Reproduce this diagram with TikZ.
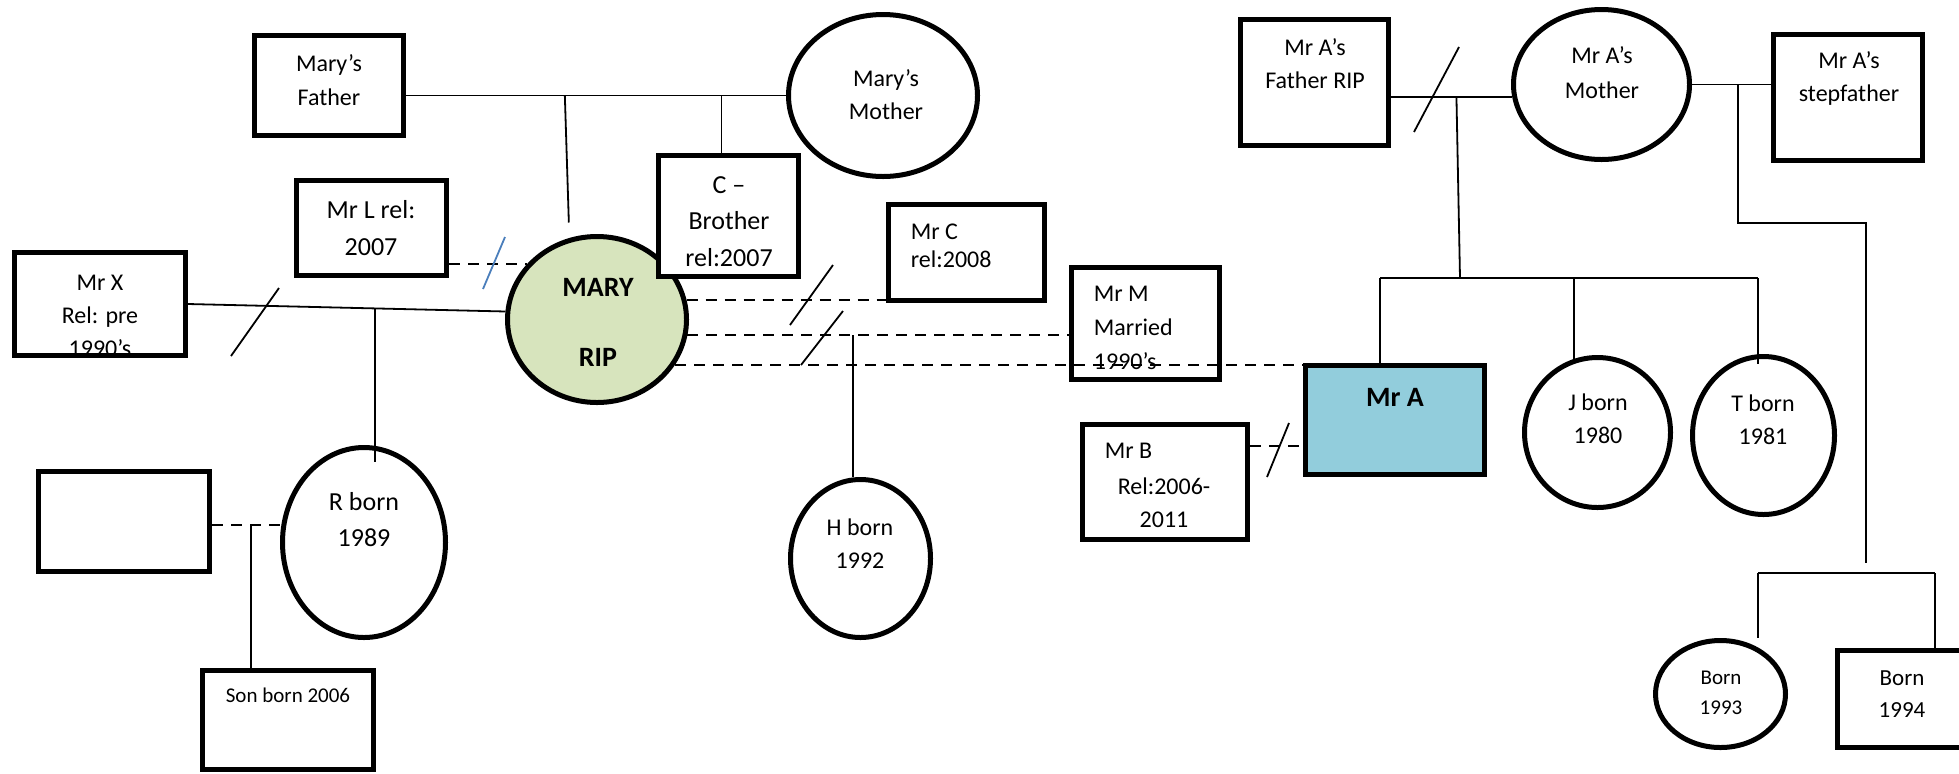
\documentclass[tikz,border=0pt]{standalone}
\usepackage{fontspec}
\setmainfont{Carlito}
\usetikzlibrary{shapes.geometric}
\definecolor{maryfill}{HTML}{D7E4BD}
\definecolor{afill}{HTML}{92CDDC}
\definecolor{cutblue}{HTML}{4A7EBB}
\tikzset{
  gen/.style={x=0.5pt, y=-0.5pt, line width=0.9pt},
  sz/.style 2 args={minimum width=#1, minimum height=#2},
  mbox/.style={draw, rectangle, line width=2.5pt, inner sep=0pt, fill=white},
  fell/.style={draw, ellipse, line width=2.5pt, inner sep=0pt},
  txt/.style={align=center, inner sep=0pt, font=\fontsize{12}{#1}\selectfont}, txt/.default=16.5,
  bigtxt/.style={align=center, inner sep=0pt, font=\fontsize{13}{#1}\selectfont}, bigtxt/.default=18,
  smtxt/.style={align=center, inner sep=0pt, font=\fontsize{10.5}{#1}\selectfont}, smtxt/.default=15,
  boldtxt/.style={align=center, inner sep=0pt, font=\fontsize{14}{35}\selectfont\bfseries},
  rel/.style={dash pattern=on 5.5pt off 4pt, line width=1pt},
  cut/.style={line width=0.9pt}
}

\begin{document}
\begin{tikzpicture}[gen]
\useasboundingbox (0,0) rectangle (1959,773);
\clip (0,0) rectangle (1959,773);
% Mary's side
\node[mbox, sz={74.5pt}{50pt}] (mfa) at (329,85.5) {};
\node[fell, sz={94.5pt}{81pt}] (mmo) at (883,95.5) {};
\node[fell, fill=maryfill, sz={89.5pt}{83pt}] (mary) at (597,319.5) {};
\node[mbox, sz={70pt}{60.5pt}] (cbro) at (728.5,216) {};
\node[mbox, sz={75pt}{47.5pt}] (mrl) at (371.5,228) {};
\node[mbox, sz={85.5pt}{51.5pt}] (mrx) at (100,304) {};
\node[mbox, sz={78pt}{48pt}] (mrc) at (966.5,252.5) {};
\node[mbox, sz={74pt}{56pt}] (mrm) at (1145.5,323.5) {};
\node[fell, sz={70pt}{79pt}] (hson) at (860.5,558.5) {};
\node[fell, sz={81.5pt}{95pt}] (rdau) at (364,542.5) {};
\node[mbox, sz={85.5pt}{50pt}] (rpart) at (124,521.5) {};
\node[mbox, sz={85.5pt}{49.5pt}] (rson) at (288,720) {};
% Mr A's side
\node[mbox, sz={74pt}{63pt}] (afa) at (1314.5,82.5) {};
\node[fell, sz={88pt}{75pt}] (amo) at (1601.5,84.5) {};
\node[mbox, sz={74.5pt}{63pt}] (astep) at (1848,97.5) {};
\node[mbox, fill=afill, sz={89.5pt}{54.5pt}] (mra) at (1395,420) {};
\node[mbox, sz={82.5pt}{57.5pt}] (mrb) at (1165,482) {};
\node[fell, sz={73pt}{75pt}] (jdau) at (1597.5,432.5) {};
\node[fell, sz={71pt}{79pt}] (tdau) at (1763.5,435.5) {};
\node[fell, sz={65pt}{53.5pt}] (b93) at (1720.5,694) {};
\node[mbox, sz={64.5pt}{48.5pt}] (b94) at (1902,699) {};

% texts
\node[txt=17] (mfaT) at (329,80) {Mary’s\\Father};
\node[txt] (mmoT) at (886,94.5) {Mary’s\\Mother};
\node[boldtxt] (maryT) at (598,322) {MARY\\RIP};
\node[bigtxt=18.25] (cbroT) at (729,221.5) {C –\\Brother\\rel:2007};
\node[bigtxt=18.5] (mrlT) at (371,228.5) {Mr L rel:\\2007};
\begin{scope}
  \clip (mrx.south west) rectangle (mrx.north east);
  \node[txt] (mrxT) at (100,316) {Mr X\\Rel: pre\\1990’s};
\end{scope}
\node[txt=14, align=left, anchor=west] (mrcT) at (910,246) {Mr C\\rel:2008};
\node[txt=17, align=left, anchor=west] (mrmT) at (1093,328) {Mr M\\Married\\1990’s};
\node[txt] (hsonT) at (860,543.5) {H born\\1992};
\node[bigtxt] (rdauT) at (364,520) {R born\\1989};
\node[smtxt] (rsonT) at (288,695) {Son born 2006};
\node[txt] (afaT) at (1315,63.5) {Mr A’s\\Father RIP};
\node[txt=17.5] (amoT) at (1602,72.5) {Mr A’s\\Mother};
\node[txt] (astepT) at (1849,78.5) {Mr A’s\\stepfather};
\node[boldtxt] (mraT) at (1395,397) {Mr A};
\node[txt, anchor=west] (mrbT) at (1104,451) {Mr B};
\node[txt] (mrbT2) at (1164,502.5) {Rel:2006-\\2011};
\node[txt] (jdauT) at (1598,418.5) {J born\\1980};
\node[txt] (tdauT) at (1763,419.5) {T born\\1981};
\node[smtxt] (b93T) at (1721,693) {Born\\1993};
\node[txt, font=\fontsize{11.5}{16}\selectfont] (b94T) at (1902,694) {Born\\1994};

% Mary's lines
\draw (mfa.east |- mmo.west) -- coordinate[pos=0.418] (mp) coordinate[pos=0.83] (cp) (mmo.west);
\draw (mp) -- ++(4,127);
\draw (cp) -- (cp |- cbro.north);
\draw (mrx.east) -- coordinate[pos=0.59] (xr) (mary.175);
\draw (xr) -- ++(0,154);
\draw[cut] (279,288) -- (231,356);
\draw[rel] (mrl.east |- mary.142) -- (mary.142);
\draw[cut, cutblue] (505,237) -- (483,289);
\draw[rel] (mary.12) -- (mary.12 -| mrc.west);
\draw[rel] (mary.-10) -- coordinate[pos=0.435] (hp) (mary.-10 -| mrm.west);
\draw (hp) -- (hp |- hson.north);
\draw[rel] (mary.-30) -- (mary.-30 -| mra.west);
\draw[cut] (833,265) -- (790,325);
\draw[cut] (843,311) -- (801,365);
\draw[rel] (rpart.east |- rdau.168) -- coordinate[pos=0.56] (rs) (rdau.168);
\draw (rs) -- (rs |- rson.north);

% Mr A's lines
\draw (afa.east |- amo.188) -- coordinate[pos=0.54] (ap) (amo.188);
\draw[cut] (1459,47) -- (1414,132);
\draw (ap) -- (1460,278);
\draw (1380,278) coordinate (k1) -- (1758,278) coordinate (k3);
\draw (k1) -- (k1 |- mra.north);
\draw (1574,278) -- ++(0,84);
\draw (k3) -- ++(0,86);
\draw (amo.east) -- coordinate[pos=0.58] (sp) (amo.east -| astep.west);
\draw (sp) -- ++(0,138.5) -| (1866,563);
\draw (1758,573) coordinate (h1) -- (1935,573) coordinate (h2);
\draw (h1) -- ++(0,65); \draw (h2) -- (h2 |- b94.north);
\draw[rel] (mrb.east |- mra.196) -- (mra.196);
\draw[cut] (1289,423) -- (1267,477);
\end{tikzpicture}
\end{document}
